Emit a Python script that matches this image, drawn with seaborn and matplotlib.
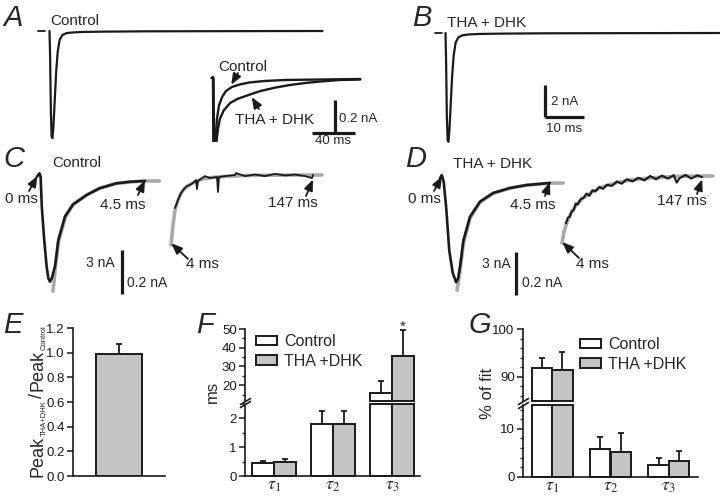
import matplotlib
matplotlib.use("Agg")
import matplotlib.pyplot as plt
from matplotlib.ticker import MultipleLocator, FormatStrFormatter
import pandas as pd
import seaborn as sns

# ---- values (time in ms, current in nA) ----
# A / B: whole transporter currents
a_t = [0, 0.15, 0.35, 0.55, 0.75, 1.0, 1.35, 1.7, 2.1, 2.6, 3.3, 4.4, 6, 8.6, 14, 25, 45, 70]
a_i = [0, -1.5, -5.0, -6.6, -6.7, -6.0, -4.3, -2.6, -1.3, -0.56, -0.25, -0.13, -0.09, -0.06, -0.04, -0.02, -0.01, 0]
b_t = [0, 0.15, 0.35, 0.55, 0.75, 1.0, 1.35, 1.7, 2.1, 2.6, 3.3, 4.4, 6, 8.6, 14, 25, 45, 71]
b_i = [0, -1.7, -5.3, -6.7, -6.8, -6.1, -4.4, -2.7, -1.4, -0.6, -0.27, -0.14, -0.09, -0.06, -0.04, -0.02, -0.01, 0]

# A inset: slow decay, control vs THA + DHK
ins_ctrl_t = [-1.5, 0, 0.4, 1.9, 3.7, 5.6, 8.4, 12, 17.7, 25, 34, 48, 67, 100, 137]
ins_ctrl_i = [0.006, 0.012, -0.6, -0.40, -0.24, -0.16, -0.11, -0.073, -0.048, -0.033, -0.021, -0.012, -0.006, -0.003, 0]
ins_tha_t = [0.5, 1.2, 2.8, 4.7, 6.5, 10, 16, 23, 33, 44, 58, 72, 86, 100, 118, 137]
ins_tha_i = [0.005, -0.6, -0.40, -0.30, -0.24, -0.19, -0.145, -0.12, -0.097, -0.073, -0.052, -0.036, -0.024, -0.015, -0.006, -0.003]

# C: control, 0-4.5 ms and 4-147 ms with fits
c_fast_t = [0, 0.1, 0.15, 0.2, 0.3, 0.4, 0.47, 0.54, 0.62, 0.75, 0.89, 1.17, 1.5, 2.07, 2.6, 3.3, 3.9, 4.5]
c_fast_i = [0.3, 0.52, 0.3, -1.75, -4.0, -5.8, -6.6, -6.85, -6.6, -5.8, -4.0, -2.4, -1.6, -0.95, -0.5, -0.16, -0.05, 0]
c_ffit_t = [0.66, 0.7, 0.75, 0.89, 1.17, 1.5, 2.07, 2.6, 3.3, 3.9, 4.5, 5.1]
c_ffit_i = [-7.5, -7.0, -6.1, -4.2, -2.5, -1.6, -0.95, -0.5, -0.17, -0.06, 0, 0]
c_slow_t = [8, 11, 14, 17, 20, 23, 26, 29, 30, 31, 35, 38, 43, 50, 51, 52, 58, 68, 69, 78, 88, 98, 108, 118, 128, 138, 145, 146]
c_slow_i = [-0.15, -0.114, -0.082, -0.064, -0.05, -0.045, -0.036, -0.023, -0.064, -0.027, -0.014, -0.005, -0.014, -0.009, -0.077, -0.009, -0.005, 0.0, 0.009, -0.005, 0.002, -0.005, 0.005, -0.002, 0.002, -0.005, -0.014, 0.0]
c_sfit_t = [4, 6, 8, 11, 14, 18, 23, 29, 36, 45, 60, 80, 110, 155]
c_sfit_i = [-0.318, -0.227, -0.159, -0.114, -0.082, -0.059, -0.043, -0.03, -0.018, -0.011, -0.006, -0.002, -0.0005, 0.0]

# D: THA + DHK
d_fast_t = [0, 0.07, 0.15, 0.25, 0.38, 0.52, 0.66, 0.74, 0.82, 0.96, 1.23, 1.64, 2.18, 2.87, 3.55, 4.5]
d_fast_i = [0.32, 0.54, 0.1, -1.6, -4.6, -6.1, -6.75, -6.5, -5.7, -3.9, -2.3, -1.27, -0.68, -0.34, -0.14, 0]
d_ffit_t = [0.7, 0.74, 0.82, 0.96, 1.23, 1.64, 2.18, 2.87, 3.55, 4.5, 5.05]
d_ffit_i = [-7.3, -6.9, -6.0, -4.1, -2.4, -1.3, -0.7, -0.35, -0.15, -0.01, 0]
d_slow_t = [8, 10, 12, 14, 16, 18, 20, 23, 26, 29, 32, 35, 38, 42, 46, 50, 55, 60, 65, 70, 76, 82, 88, 94,
            100, 106, 112, 118, 121, 124, 130, 136, 142, 147]
d_slow_i = [-0.215, -0.19, -0.185, -0.16, -0.155, -0.125, -0.13, -0.105, -0.1, -0.08, -0.09, -0.065, -0.07,
            -0.05, -0.058, -0.04, -0.045, -0.025, -0.035, -0.015, -0.025, -0.008, -0.02, 0.0,
            -0.015, 0.002, -0.012, 0.004, -0.03, -0.01, 0.005, -0.012, 0.003, -0.005]
d_sfit_t = [4, 6, 9.1, 13.2, 18.3, 25.4, 34.6, 44.8, 58, 73.4, 93.8, 119, 145, 158]
d_sfit_i = [-0.305, -0.255, -0.209, -0.168, -0.132, -0.1, -0.073, -0.05, -0.032, -0.018, -0.009, -0.002, 0, 0]

# E: peak ratio
e_ratio = 0.99
e_sem = 0.08

# F, G: time constants and their weights
taus = ["$\\tau_1$", "$\\tau_2$", "$\\tau_3$"]
groups = ["Control", "THA +DHK"]
f_ctrl = [0.45, 1.82, 16.0]
f_ctrl_err = [0.08, 0.43, 6.0]
f_tha = [0.48, 1.82, 35.5]
f_tha_err = [0.12, 0.43, 14.0]
g_ctrl = [91.8, 5.7, 2.45]
g_ctrl_err = [2.2, 2.7, 1.4]
g_tha = [91.5, 5.2, 3.3]
g_tha_err = [3.6, 4.0, 2.0]

GRAY = "#c4c4c4"
FIT = "#aaaaaa"

sns.set_theme(style="white")
plt.rcParams["font.family"] = ["Liberation Sans", "DejaVu Sans"]
plt.rcParams["mathtext.fontset"] = "stix"

W, H = 720, 498
fig = plt.figure(figsize=(W / 100, H / 100), dpi=100)


def fx(x):
    return x / W


def fy(y):
    return 1 - y / H


def box(l, t, r, b):
    return [l / W, 1 - b / H, (r - l) / W, (b - t) / H]


def trace_axes(l, t, r, b, x0, y0, t0, px_ms, px_na):
    # axes whose data scale matches the pixel scale of the original panel
    ax = fig.add_axes(box(l, t, r, b))
    ax.set_xlim(t0 + (l - x0) / px_ms, t0 + (r - x0) / px_ms)
    ax.set_ylim(-(b - y0) / px_na, (y0 - t) / px_na)
    ax.set_axis_off()
    return ax


def trace(ax, t, i, color="k", lw=1.6):
    sns.lineplot(x=t, y=i, ax=ax, color=color, lw=lw, sort=False, estimator=None)


def text(x, y, s, size=11, **kw):
    fig.text(fx(x), fy(y), s, fontsize=size, va="baseline", **kw)


def letter(x, y, s):
    fig.text(fx(x), fy(y), s, fontsize=21, style="italic", va="baseline")


def arrow(ax, xy, tail):
    ax.annotate("", xy=xy, xytext=(fx(tail[0]), fy(tail[1])), textcoords="figure fraction",
                arrowprops=dict(arrowstyle="-|>,head_length=0.55,head_width=0.22", color="k",
                                lw=1.3, shrinkA=0, shrinkB=0))


def bar(ax, xs, ys):
    ax.plot(xs, ys, color="k", lw=2.3, solid_capstyle="butt", clip_on=False)


# ---------------- A ----------------
axA = trace_axes(34, 20, 336, 145, 49.5, 31, 0, 3.9, 16)
trace(axA, a_t, a_i)
axA.plot([-3.0, -1.2], [0, 0], color="k", lw=1.3)
letter(3, 26, "A")
text(50, 25, "Control")

axI = trace_axes(200, 60, 368, 142, 213, 79, 0, 1.075, 165)
trace(axI, ins_tha_t, ins_tha_i, lw=1.7)
trace(axI, ins_ctrl_t, ins_ctrl_i, lw=1.7)
bar(axI, [113.5, 113.5], [-0.13, -0.33])
bar(axI, [92, 132], [-0.33, -0.33])
text(218, 71, "Control")
arrow(axI, (17, -0.035), (238, 73))
text(235, 124, "THA + DHK")
arrow(axI, (36, -0.11), (259, 109))
text(339, 122, "0.2 nA", size=9.5)
text(315, 144, "40 ms", size=9.5)

# ---------------- B ----------------
axB = trace_axes(428, 20, 720, 145, 445.5, 33, 0, 3.9, 16)
trace(axB, b_t, b_i)
axB.plot([-2.7, -0.9], [0, 0], color="k", lw=1.3)
letter(412, 26, "B")
text(447, 27, "THA + DHK")
bar(axB, [25.5, 25.5], [-3.25, -5.25])
bar(axB, [25.5, 35.5], [-5.25, -5.25])
text(551, 105, "2 nA", size=9.5)
text(546, 132, "10 ms", size=9.5)

# ---------------- C ----------------
axCf = trace_axes(28, 163, 178, 300, 37, 181, 0, 24, 14.7)
trace(axCf, c_ffit_t, c_ffit_i, color=FIT, lw=2.6)
trace(axCf, c_fast_t, c_fast_i, lw=1.9)
axCs = trace_axes(160, 163, 330, 262, 171, 175, 4, 1.0, 220)
trace(axCs, c_sfit_t, c_sfit_i, color=FIT, lw=2.6)
trace(axCs, c_slow_t, c_slow_i, lw=1.3)
bar(axCf, [3.54, 3.54], [-4.69, -7.69])
letter(3, 167, "C")
text(52, 167, "Control")
text(5, 203, "0 ms")
arrow(axCf, (0.02, 0.35), (29, 191))
text(100, 209, "4.5 ms")
arrow(axCf, (4.5, 0.05), (138, 195))
text(186, 268, "4 ms")
arrow(axCs, (4.2, -0.31), (188, 259))
text(268, 207, "147 ms")
arrow(axCs, (146, -0.02), (306, 196))
text(86, 267, "3 nA", size=10)
text(127, 287, "0.2 nA", size=10)

# ---------------- D ----------------
axDf = trace_axes(428, 163, 570, 300, 440, 183, 0, 24.4, 14.7)
trace(axDf, d_ffit_t, d_ffit_i, color=FIT, lw=2.6)
trace(axDf, d_fast_t, d_fast_i, lw=1.9)
axDs = trace_axes(552, 163, 720, 262, 562, 176, 4, 0.98, 220)
trace(axDs, d_sfit_t, d_sfit_i, color=FIT, lw=2.6)
trace(axDs, d_slow_t, d_slow_i, lw=1.5)
bar(axDf, [3.11, 3.11], [-4.69, -7.62])
letter(405, 167, "D")
text(453, 168, "THA + DHK")
text(408, 203, "0 ms")
arrow(axDf, (0.08, 0.45), (434, 191))
text(510, 209, "4.5 ms")
arrow(axDf, (4.5, 0.05), (545, 196))
text(576, 268, "4 ms")
arrow(axDs, (4.2, -0.3), (579, 258))
text(657, 205, "147 ms")
arrow(axDs, (147, -0.015), (697, 194))
text(482, 268, "3 nA", size=10)
text(522, 287, "0.2 nA", size=10)


# ---------------- bar panels ----------------
def style_axis(ax, bottom=True):
    sns.despine(ax=ax, top=True, right=True, bottom=not bottom)
    for sp in ax.spines.values():
        sp.set_linewidth(1.2)
        sp.set_color("k")
    ax.tick_params(axis="y", which="major", direction="out", length=4, width=1.1,
                   labelsize=9.5, pad=2, left=True, colors="k")
    ax.tick_params(axis="y", which="minor", direction="out", length=2, width=1, left=True)
    ax.tick_params(axis="x", length=0, labelsize=13, pad=1)
    ax.set_xlabel("")
    ax.set_ylabel("")


def break_mark(ax, ypos):
    ax.plot([0], [ypos], transform=ax.transAxes, marker=[(-1, -0.6), (1, 0.6)],
            markersize=8, mew=1.2, color="k", linestyle="none", clip_on=False)


# E
axE = fig.add_axes(box(73, 328, 165, 476))
sns.barplot(x=["THA+DHK"], y=[e_ratio], ax=axE, color=GRAY, edgecolor="k", linewidth=1.4,
            width=0.5, errorbar=None, saturation=1)
axE.errorbar([0], [e_ratio], yerr=[[0], [e_sem]], fmt="none", ecolor="k", elinewidth=1.3,
             capsize=2.5, capthick=1.3)
axE.set_xlim(-0.51, 0.51)
axE.set_ylim(0, 1.2)
axE.set_yticks([0, 0.2, 0.4, 0.6, 0.8, 1.0, 1.2])
axE.yaxis.set_major_formatter(FormatStrFormatter("%.1f"))
axE.set_xticks([])
style_axis(axE)
letter(3, 333, "E")

# vertical label Peak_THA+DHK / Peak_Control built from pieces
renderer = fig.canvas.get_renderer()
ylab = [("Peak", 13, 0, 0), ("THA+DHK", 5.5, 3.5, 2), ("/", 13, 0, 2),
        ("Peak", 13, 0, 0), ("Control", 5.5, 3.5, 0)]
ycur = 477
for s, size, dx, gap in ylab:
    t = fig.text(fx(42 + dx), fy(ycur), s, fontsize=size, rotation=90, rotation_mode="anchor",
                 ha="left", va="baseline")
    ycur -= t.get_window_extent(renderer).height + gap


def split_bars(df, vals, errs, top_box, low_box, up_lim, low_lim, width, xlim, up_major,
               up_minor, low_major, low_minor, leg_xy):
    ax_up = fig.add_axes(box(*top_box))
    ax_lo = fig.add_axes(box(*low_box))
    for ax, leg in ((ax_up, True), (ax_lo, False)):
        sns.barplot(data=df, x="tau", y="value", hue="group", ax=ax, width=width,
                    palette={groups[0]: "white", groups[1]: GRAY}, edgecolor="k",
                    linewidth=1.4, saturation=1, errorbar=None, legend=leg)
        for k, (v, e) in enumerate(zip(vals, errs)):
            off = (k - 0.5) * width / 2
            ax.errorbar([j + off for j in range(3)], v, yerr=[[0] * 3, e], fmt="none",
                        ecolor="k", elinewidth=1.3, capsize=2.5, capthick=1.3, zorder=0)
        ax.set_xlim(*xlim)
    ax_up.set_ylim(*up_lim)
    ax_lo.set_ylim(*low_lim)
    # cut the bars at the axis break, closing the rectangles
    for p in ax_up.patches:
        h = p.get_height()
        if h < up_lim[0]:
            p.set_visible(False)
        else:
            p.set_y(up_lim[0])
            p.set_height(h - up_lim[0])
            p.set_clip_on(False)
    for p in ax_lo.patches:
        if p.get_height() > low_lim[1]:
            p.set_height(low_lim[1])
        p.set_clip_on(False)
    ax_up.yaxis.set_major_locator(MultipleLocator(up_major))
    ax_up.yaxis.set_minor_locator(MultipleLocator(up_minor))
    ax_lo.yaxis.set_major_locator(MultipleLocator(low_major))
    ax_lo.yaxis.set_minor_locator(MultipleLocator(low_minor))
    ax_up.set_ylim(*up_lim)
    ax_lo.set_ylim(*low_lim)
    style_axis(ax_up, bottom=False)
    style_axis(ax_lo)
    ax_up.set_xticks([])
    ax_lo.set_xticks([0, 1, 2])
    ax_lo.set_xticklabels(taus)
    break_mark(ax_up, 0)
    break_mark(ax_lo, 1)
    sns.move_legend(ax_up, "upper left", bbox_to_anchor=(fx(leg_xy[0]), fy(leg_xy[1])),
                    bbox_transform=fig.transFigure, title=None, frameon=False, fontsize=11.5,
                    handlelength=1.3, handleheight=0.55, handletextpad=0.45,
                    labelspacing=0.3, borderpad=0, borderaxespad=0)
    return ax_up, ax_lo


f_df = pd.DataFrame({"tau": taus * 2, "group": [groups[0]] * 3 + [groups[1]] * 3,
                     "value": f_ctrl + f_tha})
split_bars(f_df, [f_ctrl, f_tha], [f_ctrl_err, f_tha_err], (245, 329, 420, 400.5),
           (245, 404, 420, 476), (11.8, 50), (0, 2.5), 0.75, (-0.49, 2.47),
           10, 5, 1, 0.5, (256, 334))
fig.text(fx(212), fy(392), "ms", fontsize=12, rotation=90, ha="center", va="center")
fig.text(fx(403), fy(327), "*", fontsize=11, ha="center", va="center")
letter(196, 333, "F")

g_df = pd.DataFrame({"tau": taus * 2, "group": [groups[0]] * 3 + [groups[1]] * 3,
                     "value": g_ctrl + g_tha})
split_bars(g_df, [g_ctrl, g_tha], [g_ctrl_err, g_tha_err], (523, 329, 698, 400.5),
           (523, 405, 698, 476.7), (85, 100), (0, 15), 0.7, (-0.5, 2.5),
           10, 2, 10, 2, (580, 337))
fig.text(fx(487), fy(393), "% of fit", fontsize=12, rotation=90, ha="center", va="center")
letter(469, 333, "G")

fig.savefig("out.png", dpi=100, facecolor="white")
